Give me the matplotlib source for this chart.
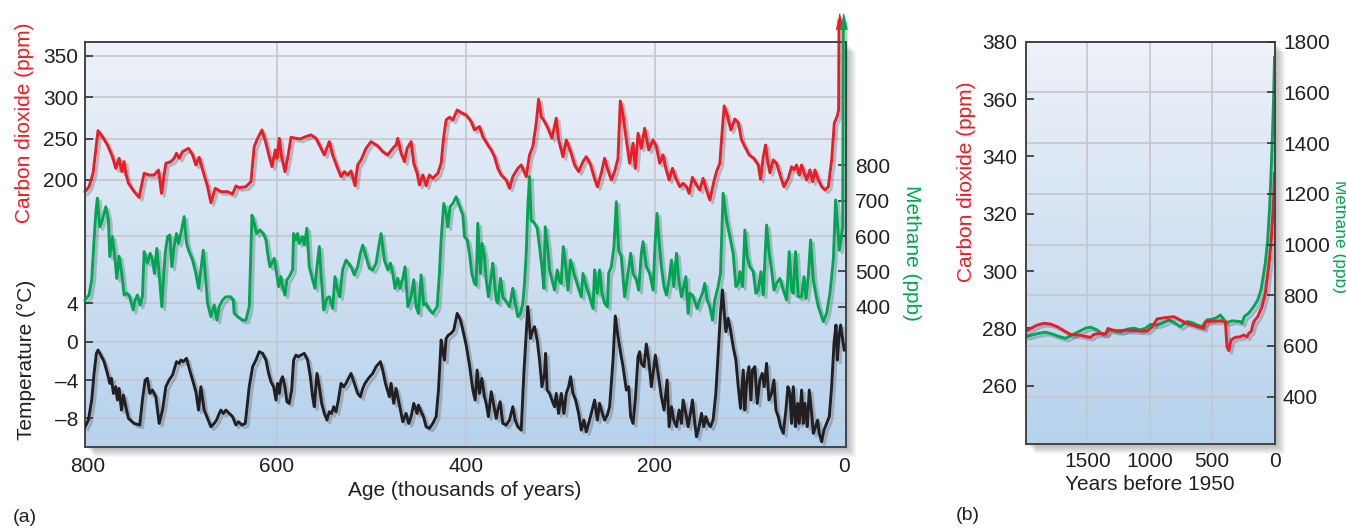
import numpy as np
import matplotlib
matplotlib.use('Agg')
import matplotlib.pyplot as plt
import matplotlib.patheffects as pe
from matplotlib.colors import LinearSegmentedColormap
from matplotlib.patches import Rectangle
from matplotlib.transforms import blended_transform_factory

plt.rcParams['font.family'] = ['Liberation Sans', 'DejaVu Sans']
plt.rcParams['font.size'] = 15

# ---------------- (a) ice core records, age in thousands of years ----------------
co2_pts = [(803.2, 185.9), (799.0, 191.9), (794.8, 208.1), (791.9, 236.3), (789.5, 259.7), (784.9, 252.5),
           (779.6, 242.4), (774.3, 228.2), (770.7, 214.1), (767.2, 226.2), (764.4, 210.1), (761.9, 222.2),
           (760.1, 208.1), (757.3, 196.0), (751.3, 185.9), (746.0, 179.0), (740.7, 208.1), (735.4, 206.0),
           (730.1, 206.0), (725.5, 212.1), (722.3, 183.8), (717.7, 220.2), (712.4, 222.2), (708.9, 226.2),
           (706.4, 232.3), (703.6, 226.2), (700.0, 234.3), (693.7, 238.3), (689.4, 230.3), (685.9, 218.2),
           (682.4, 227.4), (678.8, 212.1), (673.5, 191.9), (670.0, 172.5), (665.4, 189.9), (659.4, 185.9),
           (652.4, 185.9), (647.0, 183.0), (643.5, 192.7), (640.0, 190.7), (632.9, 191.9), (627.6, 198.0),
           (624.1, 240.4), (620.5, 250.4), (615.9, 260.5), (611.7, 244.4), (608.2, 228.2), (605.3, 216.1),
           (601.8, 236.3), (600.0, 226.2), (597.6, 250.4), (595.1, 228.2), (591.6, 210.1), (588.1, 230.3),
           (585.2, 251.6), (579.9, 250.4), (575.3, 249.6), (569.3, 252.5), (564.0, 254.5), (558.7, 250.4),
           (555.2, 242.4), (549.9, 230.3), (544.6, 246.4), (541.1, 230.3), (535.8, 214.1), (532.2, 204.0),
           (528.7, 210.1), (525.2, 206.0), (521.6, 210.9), (517.4, 193.1), (514.6, 218.2), (511.0, 224.2),
           (505.7, 238.3), (500.4, 246.4), (493.3, 241.2), (488.1, 234.3), (482.7, 230.3), (477.4, 238.3),
           (473.9, 242.4), (472.1, 250.4), (468.6, 232.3), (465.1, 222.2), (462.2, 238.3), (458.0, 246.4),
           (455.2, 220.2), (451.6, 208.1), (449.2, 194.0), (445.6, 206.0), (442.1, 193.1), (438.6, 206.0),
           (435.0, 202.0), (429.7, 208.1), (426.2, 220.2), (423.4, 252.5), (420.9, 272.6), (417.4, 275.9),
           (413.8, 272.6), (409.2, 284.7), (405.0, 281.5), (399.7, 278.7), (394.4, 270.6), (390.9, 260.5),
           (385.6, 264.6), (382.1, 252.5), (376.8, 242.4), (373.2, 236.3), (369.7, 228.2), (366.2, 214.1),
           (362.6, 206.0), (357.3, 200.0), (353.8, 189.9), (350.3, 204.0), (344.9, 214.1), (341.4, 218.2),
           (336.1, 204.0), (332.6, 230.3), (329.1, 240.4), (325.5, 268.6), (323.0, 297.7), (320.2, 276.7),
           (316.7, 270.6), (313.1, 262.5), (308.9, 250.4), (304.3, 274.7), (301.8, 248.4), (297.2, 228.2),
           (293.7, 248.4), (289.1, 234.3), (284.9, 218.2), (280.6, 210.1), (276.0, 222.2), (272.5, 228.2),
           (267.9, 218.2), (264.4, 204.0), (260.8, 191.9), (256.6, 208.1), (253.1, 226.2), (250.2, 214.1),
           (246.0, 200.0), (242.5, 210.1), (238.9, 226.2), (236.5, 295.6), (233.6, 278.7), (230.1, 248.4),
           (226.6, 220.2), (223.0, 244.4), (220.6, 214.1), (217.7, 256.5), (214.2, 238.3), (210.7, 262.5),
           (206.4, 236.3), (201.8, 248.4), (198.3, 240.4), (194.8, 220.2), (191.2, 230.3), (188.3, 214.1),
           (184.8, 200.0), (181.3, 214.1), (177.7, 202.0), (173.5, 191.9), (170.0, 195.9), (166.4, 191.9),
           (163.6, 183.8), (160.1, 203.2), (155.8, 193.9), (152.3, 187.8), (148.8, 202.0), (145.2, 187.8),
           (141.7, 175.7), (137.4, 197.9), (134.6, 210.1), (131.1, 220.1), (129.3, 248.4), (126.5, 289.6),
           (123.3, 278.7), (119.4, 260.5), (115.2, 273.8), (111.6, 269.4), (108.1, 248.4), (104.6, 240.3),
           (100.0, 230.2), (95.0, 226.2), (90.4, 218.1), (88.0, 200.8), (85.1, 228.2), (82.7, 242.3),
           (80.9, 226.2), (78.1, 208.8), (74.5, 224.2), (71.0, 220.1), (66.8, 204.0), (63.2, 191.9),
           (58.6, 202.0), (55.1, 216.1), (52.6, 212.1), (49.8, 218.1), (47.0, 206.0), (44.5, 218.1),
           (41.7, 208.0), (39.2, 200.0), (35.7, 212.1), (32.8, 197.9), (30.4, 212.1), (26.8, 200.0),
           (23.3, 191.9), (19.8, 187.9), (16.2, 191.9), (12.7, 224.2), (9.9, 268.6), (6.7, 277.5),
           (5.3, 284.7), (4.9, 392.7)]

ch4_pts = [(803.2, 419), (799.0, 433), (796.2, 476), (793.7, 589), (791.9, 664), (790.2, 707), (787.7, 626),
           (784.9, 645), (781.3, 683), (778.5, 645), (777.1, 542), (774.3, 598), (771.4, 532), (769.7, 480),
           (767.2, 543), (764.4, 494), (761.9, 433), (759.1, 438), (756.6, 433), (754.1, 409), (752.3, 391),
           (750.2, 419), (747.8, 433), (744.9, 405), (742.5, 428), (740.7, 556), (737.2, 523), (734.3, 551),
           (731.9, 532), (729.7, 494), (727.3, 565), (724.8, 494), (722.0, 400), (718.4, 551), (715.9, 598),
           (713.5, 603), (711.4, 513), (708.9, 570), (706.4, 607), (704.3, 579), (701.8, 607), (698.3, 655),
           (695.8, 579), (693.7, 560), (689.4, 532), (685.9, 494), (683.1, 452), (680.6, 504), (678.1, 560),
           (676.0, 494), (673.5, 409), (670.0, 372), (666.5, 405), (663.6, 362), (661.2, 400), (657.6, 419),
           (654.1, 428), (648.8, 428), (646.3, 419), (645.3, 381), (641.7, 372), (636.4, 362), (632.9, 362),
           (629.4, 400), (626.5, 659), (624.1, 636), (621.6, 607), (618.1, 617), (614.5, 607), (611.7, 589),
           (609.9, 551), (607.5, 513), (602.9, 537), (598.3, 457), (595.8, 485), (594.1, 457), (591.6, 433),
           (589.5, 476), (587.0, 485), (583.5, 504), (582.4, 607), (579.9, 589), (578.2, 607), (576.4, 579),
           (572.9, 598), (571.1, 575), (568.3, 622), (565.8, 513), (562.3, 476), (559.8, 452), (557.7, 513),
           (555.2, 570), (553.4, 494), (550.6, 391), (547.1, 424), (544.6, 428), (541.1, 395), (538.6, 485),
           (535.8, 447), (533.6, 428), (530.5, 504), (526.9, 532), (521.6, 513), (518.1, 490), (514.6, 513),
           (511.7, 551), (509.2, 574), (505.7, 541), (502.2, 509), (498.6, 504), (495.1, 523), (492.3, 570),
           (489.8, 607), (486.3, 532), (482.7, 504), (479.9, 523), (477.4, 494), (475.0, 452), (472.1, 480),
           (469.7, 452), (466.8, 480), (464.4, 513), (461.5, 400), (458.0, 428), (455.2, 476), (452.7, 400),
           (450.2, 381), (447.4, 490), (444.6, 405), (442.1, 409), (438.6, 391), (435.0, 381), (430.4, 400),
           (428.0, 494), (426.2, 589), (423.4, 692), (420.9, 664), (419.1, 626), (416.7, 683), (413.8, 692),
           (410.3, 711), (407.8, 692), (403.2, 659), (401.5, 598), (398.6, 589), (396.2, 551), (393.7, 494),
           (390.9, 466), (389.1, 461), (387.4, 636), (384.5, 494), (382.8, 579), (380.3, 542), (378.5, 476),
           (376.1, 428), (373.2, 485), (371.5, 523), (367.9, 419), (366.2, 410), (363.3, 480), (360.9, 428),
           (357.3, 414), (353.8, 400), (350.3, 452), (347.8, 410), (345.0, 372), (342.1, 381), (339.7, 410),
           (337.9, 466), (336.1, 551), (334.4, 683), (332.6, 768), (330.8, 645), (327.3, 636), (324.5, 622),
           (322.0, 570), (319.5, 513), (317.4, 452), (316.0, 626), (313.1, 560), (311.4, 504), (308.9, 476),
           (306.1, 447), (303.3, 504), (300.8, 471), (299.0, 466), (296.9, 570), (293.7, 504), (292.0, 447),
           (289.1, 532), (285.6, 494), (281.3, 457), (277.8, 428), (276.0, 494), (272.5, 457), (269.0, 428),
           (265.4, 395), (263.7, 504), (260.8, 438), (258.4, 504), (255.9, 438), (253.1, 410), (250.2, 400),
           (248.8, 494), (246.0, 513), (243.2, 570), (240.7, 697), (238.2, 560), (235.4, 541), (231.9, 428),
           (228.3, 494), (225.5, 551), (223.0, 494), (219.5, 476), (217.0, 447), (214.2, 551), (212.4, 584),
           (208.9, 513), (205.4, 494), (201.8, 447), (199.4, 589), (197.6, 664), (195.8, 598), (193.0, 513),
           (190.2, 457), (187.6, 433), (184.8, 475), (182.3, 532), (179.9, 457), (177.0, 551), (174.6, 475),
           (171.7, 428), (169.3, 457), (167.1, 485), (164.7, 381), (162.9, 438), (160.1, 433), (157.6, 414),
           (155.1, 395), (152.3, 419), (149.5, 438), (147.0, 466), (144.5, 419), (141.7, 400), (138.9, 362),
           (136.4, 419), (132.9, 457), (130.4, 494), (127.6, 721), (124.0, 645), (120.5, 598), (117.0, 551),
           (114.1, 457), (111.6, 466), (109.9, 499), (107.0, 457), (104.6, 617), (102.1, 541), (99.3, 513),
           (95.7, 499), (92.9, 438), (90.4, 447), (87.6, 499), (85.1, 433), (81.6, 631), (78.8, 551),
           (76.3, 504), (73.8, 447), (71.0, 466), (67.5, 480), (63.9, 447), (60.4, 419), (57.6, 556),
           (55.1, 447), (53.3, 438), (50.9, 556), (48.0, 428), (44.5, 428), (42.0, 485), (39.9, 424),
           (37.4, 485), (35.0, 589), (32.1, 475), (29.7, 438), (26.8, 400), (24.4, 381), (21.5, 358),
           (18.0, 381), (14.5, 438), (10.9, 532), (8.5, 702), (6.3, 626), (4.6, 560), (2.8, 589), (1.0, 626),
           (0.3, 1209)]

temp_pts = [(803.2, -8.88), (799.7, -8.18), (796.2, -6.09), (793.7, -3.31), (791.2, -1.22), (789.5, -0.87),
            (786.6, -1.40), (783.1, -2.09), (779.6, -3.31), (777.1, -4.35), (775.3, -3.83), (773.2, -5.40),
            (770.7, -4.70), (769.0, -6.09), (767.2, -4.88), (764.7, -7.14), (762.6, -5.57), (760.1, -6.79),
            (757.3, -8.01), (751.3, -8.53), (745.3, -8.70), (742.5, -6.09), (739.6, -4.00), (737.2, -3.83),
            (734.7, -5.40), (731.9, -5.05), (728.3, -5.75), (724.8, -8.53), (721.2, -7.14), (717.7, -4.70),
            (714.2, -4.00), (710.6, -3.48), (706.4, -2.09), (703.6, -2.27), (701.8, -1.92), (699.3, -2.09),
            (695.8, -1.74), (693.0, -2.79), (689.4, -4.00), (685.9, -5.22), (683.1, -7.14), (680.6, -4.70),
            (677.1, -7.14), (673.5, -8.01), (670.0, -8.88), (666.5, -8.53), (664.0, -8.18), (661.9, -7.66),
            (659.4, -7.14), (656.9, -7.49), (654.1, -7.14), (650.6, -7.49), (647.0, -7.83), (643.5, -8.70),
            (640.7, -8.36), (637.1, -8.70), (633.6, -8.53), (629.4, -4.70), (625.8, -2.61), (622.3, -1.92),
            (618.8, -1.05), (615.2, -1.22), (611.7, -1.92), (608.9, -3.31), (606.4, -4.18), (603.6, -4.70),
            (601.1, -6.09), (599.4, -4.35), (597.6, -5.40), (595.8, -4.00), (594.1, -3.66), (591.6, -4.70),
            (589.5, -6.27), (587.0, -6.44), (584.5, -5.05), (582.4, -1.92), (579.9, -1.40), (577.5, -1.57),
            (574.6, -1.40), (571.1, -1.22), (567.6, -1.92), (564.7, -3.66), (562.3, -5.75), (560.5, -6.79),
            (557.7, -3.31), (555.2, -4.70), (552.7, -6.44), (549.9, -7.49), (547.1, -8.18), (544.6, -7.31),
            (542.1, -7.49), (540.0, -6.79), (537.5, -7.31), (535.0, -6.09), (532.2, -4.35), (529.4, -4.70),
            (526.9, -4.35), (525.2, -4.00), (521.6, -3.31), (518.1, -4.35), (514.6, -5.40), (511.7, -5.75),
            (509.2, -4.88), (506.8, -4.35), (503.2, -3.83), (498.6, -3.31), (495.1, -2.61), (490.5, -2.09),
            (488.1, -2.96), (485.2, -4.35), (481.0, -5.75), (479.2, -4.35), (476.4, -6.44), (473.9, -4.88),
            (471.4, -6.09), (469.3, -7.14), (466.8, -8.36), (463.3, -7.49), (460.5, -8.53), (458.0, -7.83),
            (455.2, -6.44), (451.6, -7.49), (450.2, -6.62), (447.4, -7.31), (444.9, -7.83), (442.1, -8.88),
            (438.6, -9.05), (435.0, -8.53), (431.5, -7.83), (429.0, -5.05), (426.2, 0.17), (424.4, -1.05),
            (422.7, -1.92), (420.9, 0.34), (418.4, 0.69), (415.6, 0.87), (412.8, 1.21), (409.2, 2.95),
            (405.7, 2.26), (403.2, 1.21), (399.7, -0.35), (396.2, -2.44), (392.6, -5.05), (390.2, -6.09),
            (388.1, -2.96), (385.6, -5.40), (383.1, -3.83), (380.3, -5.75), (378.5, -6.44), (376.1, -7.83),
            (373.2, -5.22), (370.8, -6.44), (367.9, -8.01), (366.2, -7.14), (363.7, -6.27), (360.9, -8.53),
            (357.3, -8.70), (353.8, -8.18), (350.3, -6.79), (347.8, -8.18), (345.0, -8.88), (341.4, -9.23),
            (338.6, -3.31), (336.1, 0.87), (334.4, 3.65), (331.5, 0.34), (329.8, 1.04), (327.3, 1.56),
            (324.5, 0.17), (322.0, -1.92), (319.5, -4.70), (316.7, -3.31), (315.6, -1.22), (313.9, -5.05),
            (311.4, -5.40), (308.9, -6.09), (306.1, -6.79), (304.3, -5.40), (301.8, -7.49), (299.0, -5.40),
            (296.2, -7.49), (293.7, -5.40), (291.2, -4.70), (289.1, -3.66), (286.6, -5.40), (283.8, -6.09),
            (280.6, -7.49), (277.8, -9.23), (275.0, -8.18), (272.5, -9.40), (270.0, -8.53), (267.2, -7.49),
            (263.7, -6.09), (260.8, -8.18), (258.4, -6.44), (255.5, -7.49), (253.1, -8.18), (250.2, -7.66),
            (247.8, -6.79), (244.2, -1.92), (241.8, 2.68), (238.9, 0.52), (236.1, -1.22), (233.6, -2.61),
            (230.1, -5.05), (227.6, -4.70), (225.5, -7.83), (223.0, -8.53), (220.6, -6.09), (217.7, -1.57),
            (216.0, -1.05), (214.2, -2.27), (211.4, -2.61), (208.9, -0.25), (206.4, -1.92), (203.6, -4.70),
            (200.8, -2.61), (199.4, -1.40), (196.5, -3.31), (193.0, -5.75), (190.2, -7.14), (186.9, -4.00),
            (184.8, -8.87), (182.3, -6.79), (179.9, -8.18), (177.0, -8.87), (174.2, -7.13), (171.7, -8.53),
            (170.0, -6.09), (167.1, -7.48), (164.7, -8.87), (162.2, -7.48), (160.1, -6.09), (157.6, -8.53),
            (155.8, -9.92), (153.0, -8.87), (150.5, -7.48), (148.1, -8.87), (145.9, -7.83), (143.5, -8.53),
            (141.0, -8.87), (138.2, -8.18), (135.3, -5.39), (132.9, -1.22), (130.4, 2.96), (128.3, 5.39),
            (125.8, 2.26), (124.7, 1.04), (122.3, 2.44), (119.8, 1.22), (117.0, -0.52), (114.1, -1.91),
            (111.6, -4.70), (109.2, -6.96), (106.3, -2.96), (104.6, -7.13), (102.8, -4.35), (100.3, -2.61),
            (98.2, -6.09), (96.5, -2.96), (94.0, -2.61), (91.5, -6.44), (88.7, -4.00), (86.2, -3.31),
            (84.1, -4.70), (81.6, -2.26), (79.1, -6.09), (76.3, -5.39), (73.8, -4.00), (71.7, -7.13),
            (69.2, -7.83), (66.8, -8.87), (63.9, -9.57), (61.1, -7.13), (59.0, -4.70), (56.9, -5.39),
            (55.1, -8.53), (53.3, -4.70), (50.9, -8.87), (48.7, -6.44), (47.0, -8.53), (44.5, -5.05),
            (42.7, -8.53), (41.0, -6.44), (38.5, -8.87), (36.4, -5.05), (33.9, -7.48), (32.1, -9.57),
            (29.7, -8.87), (27.5, -8.18), (25.8, -9.57), (23.3, -10.44), (20.8, -9.22), (18.0, -8.53),
            (15.2, -7.83), (12.7, -4.70), (10.2, -0.17), (8.1, 1.74), (6.7, -1.91), (4.9, 0.52),
            (3.2, 1.74), (1.0, 0.17), (-0.7, -0.87)]

co2_ticks = [200, 250, 300, 350]
ch4_ticks = [400, 500, 600, 700, 800]
ch4_grid = [600]
temp_ticks = [-8, -4, 0, 4]
temp_labels = ['\u2013' + '8', '\u2013' + '4', '0', '4']
age_ticks = [800, 600, 400, 200, 0]
age_grid = [600, 400, 200]

# ---------------- (b) last 2000 years ----------------
b_co2_pts = [(2000, 278.5), (1994, 278.9), (1954, 280.0), (1901, 281.2), (1847, 281.8), (1794, 281.5),
             (1741, 280.6), (1687, 279.2), (1634, 277.9), (1567, 277.7), (1501, 277.1), (1474, 276.9),
             (1447, 277.9), (1394, 278.3), (1354, 278.0), (1335, 280.0), (1301, 279.4), (1247, 279.2),
             (1181, 279.4), (1114, 279.2), (1021, 279.1), (981, 280.6), (941, 283.3), (887, 283.7),
             (807, 284.1), (754, 282.9), (701, 281.8), (634, 280.8), (567, 280.0), (554, 282.3),
             (501, 282.6), (434, 282.6), (394, 282.3), (381, 273.6), (367, 272.3), (348, 276.0),
             (314, 276.9), (274, 277.1), (247, 277.7), (220, 277.1), (207, 278.3), (188, 278.9),
             (167, 282.3), (135, 284.1), (100, 287.6), (74, 292.2), (47, 301.5), (28, 310.0),
             (18, 316.5), (7, 325.0), (0, 334.0)]

b_ch4_pts = [(2000, 646), (1994, 637), (1941, 643), (1887, 650), (1834, 654), (1781, 647), (1727, 637),
             (1674, 630), (1621, 643), (1567, 657), (1514, 670), (1474, 674), (1421, 663), (1381, 646),
             (1346, 650), (1319, 666), (1274, 659), (1234, 656), (1181, 666), (1127, 670), (1074, 663),
             (1034, 670), (994, 685), (941, 683), (901, 689), (847, 702), (807, 693), (754, 676),
             (701, 696), (661, 692), (621, 683), (581, 676), (541, 703), (501, 705), (461, 712),
             (434, 722), (407, 703), (381, 692), (341, 699), (274, 696), (261, 689), (242, 716),
             (207, 729), (167, 755), (135, 781), (108, 821), (74, 926), (55, 1018), (39, 1150),
             (28, 1281), (18, 1413), (8, 1570), (0, 1739)]

b_co2_ticks = [260, 280, 300, 320, 340, 360, 380]
b_ch4_ticks = [400, 600, 800, 1000, 1200, 1400, 1600, 1800]
b_year_ticks = [1500, 1000, 500, 0]
b_year_grid = [1500, 1000, 500]

co2_age, co2_ppm = np.array(co2_pts).T
ch4_age, ch4_ppb = np.array(ch4_pts).T
temp_age, temp_c = np.array(temp_pts).T
b_co2_year, b_co2 = np.array(b_co2_pts).T
b_ch4_year, b_ch4 = np.array(b_ch4_pts).T

RED = '#ed1c24'
GREEN = '#00a651'
BLACK = '#231f20'
GRID = '#c4c7cc'
SPINE = '#444444'
TICK = '#333333'

W, H = 1346, 528
fig = plt.figure(figsize=(W / 100, H / 100), dpi=100)


def frac(left, top, right, bottom):
    # pixel box -> figure fraction rect
    return [left / W, 1 - bottom / H, (right - left) / W, (bottom - top) / H]


bg = LinearSegmentedColormap.from_list('bg', ['#b6d2ec', '#d2e2f2', '#eef2f9'])
shade = [pe.SimpleLineShadow(offset=(2, -2), shadow_color='#3c4650', alpha=0.28), pe.Normal()]
head = [(-1, -2.2), (1, -2.2), (0, 2.2)]


def panel(rect):
    l, b, w, h = rect
    # soft drop shadow down/right of the plot box
    for d in range(1, 11):
        fig.patches.append(Rectangle((l + d / W, b - d / H), w, h, transform=fig.transFigure,
                                     fc='#2c3036', ec='none', alpha=0.04, zorder=-5))
    ax = fig.add_axes(rect)
    ax.imshow(np.linspace(0, 1, 256)[:, None], cmap=bg, origin='lower', extent=(0, 1, 0, 1),
              transform=ax.transAxes, aspect='auto', zorder=0, interpolation='bicubic')
    for s in ax.spines.values():
        s.set_color(SPINE)
        s.set_linewidth(1.4)
        s.set_zorder(6)
    return ax


def hline(ax, other, v):
    tr = blended_transform_factory(ax.transAxes, other.transData)
    ax.plot([0, 1], [v, v], transform=tr, color=GRID, lw=1.2, zorder=1)


# ---- panel (a) ----
ax = panel(frac(85.3, 42, 846, 446.7))
axM = ax.twinx()
axT = ax.twinx()
axT.yaxis.tick_left()
for tw in (axM, axT):
    for s in tw.spines.values():
        s.set_visible(False)

for v in co2_ticks:
    ax.axhline(v, color=GRID, lw=1.2, zorder=1)
for v in age_grid:
    ax.axvline(v, color=GRID, lw=1.2, zorder=1)
for v in temp_ticks:
    hline(ax, axT, v)
for v in ch4_grid:
    hline(ax, axM, v)

ax.plot(co2_age, co2_ppm, color=RED, lw=2.1, path_effects=shade, clip_on=False, zorder=3)
ax.plot(co2_age[-1], co2_ppm[-1], marker=head, ms=11, color=RED, clip_on=False, zorder=3)
axM.plot(ch4_age, ch4_ppb, color=GREEN, lw=2.1, path_effects=shade, clip_on=False, zorder=3)
axM.plot(ch4_age[-1], ch4_ppb[-1], marker=head, ms=11, color=GREEN, clip_on=False, zorder=3)
axT.plot(temp_age, temp_c, color=BLACK, lw=2.1, path_effects=shade, zorder=3)

ax.set_xlim(803, -2.5)
ax.set_ylim(-122.6, 366.9)
axT.set_ylim(-10.96, 31.27)
axM.set_ylim(4, 1149)

ax.set_yticks(co2_ticks)
ax.set_xticks(age_ticks)
ax.set_xticks(age_grid, minor=True)
axT.set_yticks(temp_ticks)
axT.set_yticklabels(temp_labels)
axM.set_yticks(ch4_ticks)

ax.tick_params(axis='x', which='major', length=0, pad=7.5, labelsize=15, labelcolor=BLACK)
ax.tick_params(axis='x', which='minor', direction='in', length=5.5, width=1.2, color=TICK)
ax.tick_params(axis='y', direction='in', length=5.5, width=1.2, color=TICK, pad=5, labelsize=15,
               labelcolor=BLACK)
axT.tick_params(axis='y', direction='in', length=5.5, width=1.2, color=TICK, pad=5, labelsize=15,
                labelcolor=BLACK)
axM.tick_params(axis='y', direction='in', length=5.5, width=1.2, color=TICK, pad=6.5, labelsize=15,
                labelcolor=BLACK)

fig.text(25 / W, 1 - 123 / H, 'Carbon dioxide (ppm)', color=RED, rotation=90, ha='center', va='center')
fig.text(26 / W, 1 - 360 / H, 'Temperature (\u00b0C)', color=BLACK, rotation=90, ha='center', va='center')
fig.text(912 / W, 1 - 253 / H, 'Methane (ppb)', color=GREEN, rotation=270, ha='center', va='center')
fig.text(465 / W, 1 - 490 / H, 'Age (thousands of years)', color=BLACK, ha='center', va='center')
fig.text(25 / W, 1 - 517 / H, '(a)', color=BLACK, ha='center', va='center', fontsize=14)

# ---- panel (b) ----
axb = panel(frac(1025.7, 41.7, 1275.3, 444.3))
axbM = axb.twinx()
for s in axbM.spines.values():
    s.set_visible(False)

for v in b_ch4_ticks:
    hline(axb, axbM, v)
for v in b_year_grid:
    axb.axvline(v, color=GRID, lw=1.2, zorder=1)

# methane drawn in the left axes (using the right-hand scale) so the CO2 line sits on top
axb.plot(b_ch4_year, b_ch4, transform=axbM.transData, color=GREEN, lw=2.1, path_effects=shade, zorder=3)
axb.plot(b_co2_year, b_co2, color=RED, lw=2.1, path_effects=shade, zorder=4)

axb.set_xlim(1994, -6)
axb.set_ylim(239.6, 379.7)
axbM.set_ylim(212, 1800)

axb.set_yticks(b_co2_ticks)
axbM.set_yticks(b_ch4_ticks)
axb.set_xticks(b_year_ticks)
axb.set_xticks(b_year_grid, minor=True)

axb.tick_params(axis='x', which='major', length=0, pad=5.5, labelsize=15, labelcolor=BLACK)
axb.tick_params(axis='x', which='minor', direction='in', length=5.5, width=1.2, color=TICK)
axb.tick_params(axis='y', direction='in', length=5.5, width=1.2, color=TICK, pad=6.3, labelsize=15,
                labelcolor=BLACK)
axbM.tick_params(axis='y', direction='in', length=5.5, width=1.2, color=TICK, pad=5.5, labelsize=15,
                 labelcolor=BLACK)

fig.text(967 / W, 1 - 182 / H, 'Carbon dioxide (ppm)', color=RED, rotation=90, ha='center', va='center')
fig.text(1332 / W, 1 - 236 / H, 'Methane (ppb)', color=GREEN, rotation=270, ha='left', va='center',
         fontsize=12.5)
fig.text(1150 / W, 1 - 485 / H, 'Years before 1950', color=BLACK, ha='center', va='center')
fig.text(968 / W, 1 - 515 / H, '(b)', color=BLACK, ha='center', va='center', fontsize=14)

fig.savefig('out.png', dpi=100, facecolor='white')
